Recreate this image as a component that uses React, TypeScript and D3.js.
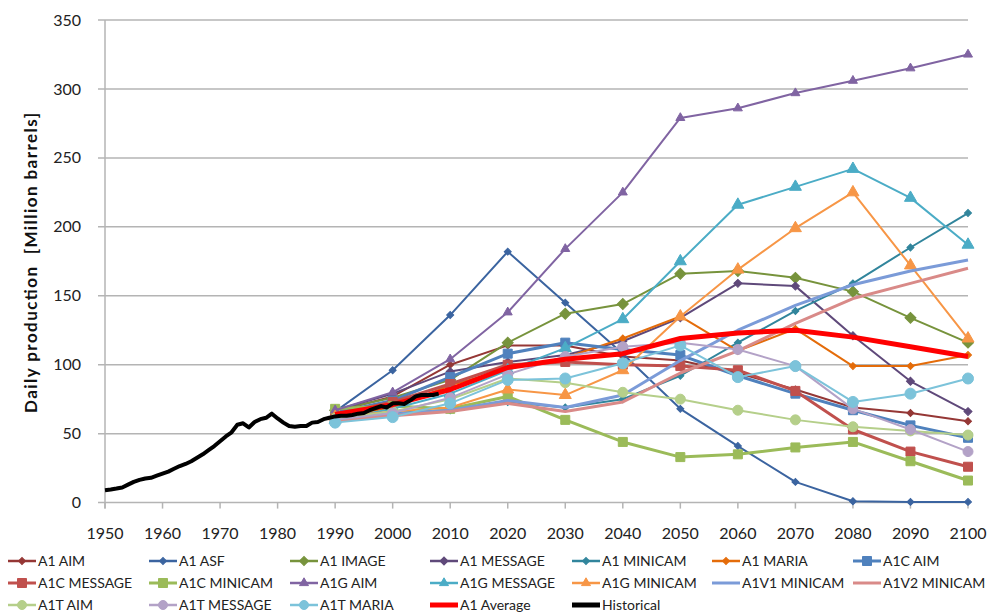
import React from "react";
import * as d3 from "d3";

const years = [1990, 2000, 2010, 2020, 2030, 2040, 2050, 2060, 2070, 2080, 2090, 2100];

const a1Aim = [66, 77, 100, 114, 114, 106, 103, 94, 82, 69, 65, 59];
const a1Asf = [66, 96, 136, 182, 145, 108, 68, 41, 15, 1, 0.5, 0.5];
const a1Image = [67, 76, 89, 116, 137, 144, 166, 168, 163, 153, 134, 116];
const a1Message = [67, 79, 95, 102, 107, 117, 134, 159, 157, 121, 88, 66];
const a1Minicam = [61, 65, 67, 73, 69, 75, 92, 116, 139, 159, 185, 210];
const a1Maria = [62, 69, 85, 97, 105, 119, 135, 110, 126, 99, 99, 107];
const a1cAim = [65, 74, 91, 108, 116, 111, 107, 92, 79, 67, 56, 47];
const a1cMessage = [64, 73, 86, 100, 102, 100, 99, 96, 81, 53, 37, 26];
const a1cMinicam = [68, 70, 68, 77, 60, 44, 33, 35, 40, 44, 30, 16];
const a1gAim = [67, 80, 104, 138, 184, 225, 279, 286, 297, 306, 315, 325];
const a1gMessage = [60, 68, 79, 96, 112, 133, 175, 216, 229, 242, 221, 187];
const a1gMinicam = [62, 66, 69, 82, 78, 96, 135, 169, 199, 225, 172, 119];
const a1v1Minicam = [60, 64, 67, 74, 69, 78, 103, 125, 143, 158, 168, 176];
const a1v2Minicam = [59, 63, 66, 72, 66, 73, 94, 110, 130, 148, 159, 170];
const a1tAim = [61, 66, 75, 90, 87, 80, 75, 67, 60, 55, 52, 49];
const a1tMessage = [60, 65, 76, 93, 106, 113, 116, 111, 99, 68, 53, 37];
const a1tMaria = [58, 62, 72, 89, 90, 101, 114, 91, 99, 73, 79, 90];
const a1Average = [64, 71, 82, 98, 104, 108, 119, 123, 125, 120, 113, 106];

const histYears = d3.range(1950, 2009);
const histValues = [
  9, 9.5, 10.2, 11, 13, 15, 16.5, 17.5, 18, 19.5,
  21, 22.5, 24.5, 26.5, 28, 30, 32.5, 35, 38, 41,
  44.5, 48, 51, 56.5, 57.5, 54.5, 58.5, 60.5, 61.5, 64.5,
  61, 58, 55.5, 55, 55.5, 55.5, 58, 58.5, 60.5, 61.5,
  62.5, 63, 63, 63.5, 64.5, 65, 67, 68.5, 70, 69,
  72, 72, 71.5, 74, 77, 78, 78, 78, 79,
];

const xTicks = d3.range(1950, 2101, 10);
const yTicks = d3.range(0, 351, 50);
const yTitle = "Daily production\u00A0\u00A0[Million barrels]";

type Marker = "diamond" | "square" | "triangle" | "circle" | "none";
interface Series { name: string; values: number[]; color: string; width: number; marker: Marker; size: number; }

const series: Series[] = [
  { name: "A1 AIM", values: a1Aim, color: "#953735", width: 2, marker: "diamond", size: 7 },
  { name: "A1 ASF", values: a1Asf, color: "#3B64A0", width: 2, marker: "diamond", size: 7 },
  { name: "A1 IMAGE", values: a1Image, color: "#77933C", width: 2, marker: "diamond", size: 11 },
  { name: "A1 MESSAGE", values: a1Message, color: "#5F497A", width: 2, marker: "diamond", size: 8 },
  { name: "A1 MINICAM", values: a1Minicam, color: "#31859C", width: 2, marker: "diamond", size: 7 },
  { name: "A1 MARIA", values: a1Maria, color: "#E46C0A", width: 2, marker: "diamond", size: 7 },
  { name: "A1C AIM", values: a1cAim, color: "#4F81BD", width: 3, marker: "square", size: 9 },
  { name: "A1C MESSAGE", values: a1cMessage, color: "#C0504D", width: 3, marker: "square", size: 9 },
  { name: "A1C MINICAM", values: a1cMinicam, color: "#9BBB59", width: 3, marker: "square", size: 9 },
  { name: "A1G AIM", values: a1gAim, color: "#8064A2", width: 2, marker: "triangle", size: 9 },
  { name: "A1G MESSAGE", values: a1gMessage, color: "#4BACC6", width: 2, marker: "triangle", size: 12 },
  { name: "A1G MINICAM", values: a1gMinicam, color: "#F79646", width: 2, marker: "triangle", size: 12 },
  { name: "A1V1 MINICAM", values: a1v1Minicam, color: "#7B9BD8", width: 3, marker: "none", size: 0 },
  { name: "A1V2 MINICAM", values: a1v2Minicam, color: "#D98A88", width: 3, marker: "none", size: 0 },
  { name: "A1T AIM", values: a1tAim, color: "#B5CF8A", width: 2, marker: "circle", size: 10 },
  { name: "A1T MESSAGE", values: a1tMessage, color: "#B3A2C7", width: 2, marker: "circle", size: 10 },
  { name: "A1T MARIA", values: a1tMaria, color: "#7CC3DA", width: 2, marker: "circle", size: 11 },
];

const W = 990, H = 613;
const x = d3.scaleLinear().domain([1950, 2100]).range([105, 968]);
const y = d3.scaleLinear().domain([0, 350]).range([502.6, 20]);

function markerPath(m: Marker, s: number): string | null {
  if (m === "none") return null;
  const type = m === "triangle" ? d3.symbolTriangle : m === "circle" ? d3.symbolCircle : d3.symbolSquare;
  let area = s * s;
  if (m === "circle") area = Math.PI * (s / 2) * (s / 2);
  if (m === "triangle") area = (Math.sqrt(3) / 4) * s * s;
  if (m === "diamond") area = (s * s) / 2;
  return d3.symbol().type(type).size(area)() as string;
}

function Mark({ m, s, color, cx, cy }: { m: Marker; s: number; color: string; cx: number; cy: number }) {
  const p = markerPath(m, s);
  if (!p) return null;
  const rot = m === "diamond" ? ` rotate(45)` : "";
  return <path d={p} transform={`translate(${cx},${cy})${rot}`} fill={color} stroke={color} strokeWidth={1} />;
}

export default function App() {
  const line = d3.line<number>().x((_, i) => x(years[i])).y((v) => y(v));
  const histLine = d3.line<number>().x((_, i) => x(histYears[i])).y((v) => y(v));
  const font = "Lato, 'Open Sans', sans-serif";
  const colX = [8, 149, 290, 430, 572, 712, 853];
  const rowY = [561, 583, 605];
  const legendItems = [
    ...series.map((s) => ({ name: s.name, color: s.color, width: s.width, marker: s.marker, size: s.size })),
    { name: "A1 Average", color: "#FF0000", width: 5, marker: "none" as Marker, size: 0 },
    { name: "Historical", color: "#000000", width: 5, marker: "none" as Marker, size: 0 },
  ];
  return (
    <svg width={W} height={H} style={{ position: "absolute", left: 0, top: 0, background: "#fff" }} fontFamily={font}>
      <rect width={W} height={H} fill="#fff" />
      {yTicks.map((t) => (
        <line key={t} x1={98} x2={968} y1={y(t)} y2={y(t)} stroke="#B4B4B4" strokeWidth={1.5} />
      ))}
      <line x1={105} x2={105} y1={y(350)} y2={y(0) + 6} stroke="#B4B4B4" strokeWidth={1.5} />
      {xTicks.map((t) => (
        <line key={t} x1={x(t)} x2={x(t)} y1={y(0)} y2={y(0) + 6} stroke="#B4B4B4" strokeWidth={1.5} />
      ))}
      {yTicks.map((t) => (
        <text key={t} x={81} y={y(t)} dy="0.35em" textAnchor="end" fontSize={16} fill="#222">{t}</text>
      ))}
      {xTicks.map((t) => (
        <text key={t} x={x(t)} y={533} dy="0.35em" textAnchor="middle" fontSize={16} fill="#222">{t}</text>
      ))}
      <text transform="translate(31,263) rotate(-90)" textAnchor="middle" dy="0.35em" fontSize={17} fontWeight="bold" fill="#111"
        textLength={300} lengthAdjust="spacing">
        {yTitle}
      </text>
      {series.map((s) => (
        <g key={s.name}>
          <path d={line(s.values) as string} fill="none" stroke={s.color} strokeWidth={s.width} strokeLinejoin="round" />
          {s.values.map((v, i) => (
            <Mark key={i} m={s.marker} s={s.size} color={s.color} cx={x(years[i])} cy={y(v)} />
          ))}
        </g>
      ))}
      <path d={line(a1Average) as string} fill="none" stroke="#FF0000" strokeWidth={5} strokeLinejoin="round" />
      <path d={histLine(histValues) as string} fill="none" stroke="#000" strokeWidth={4} strokeLinejoin="round" />
      {legendItems.map((it, i) => {
        const cx = colX[i % 7];
        const cy = rowY[Math.floor(i / 7)];
        return (
          <g key={it.name}>
            <line x1={cx} x2={cx + 28} y1={cy} y2={cy} stroke={it.color} strokeWidth={Math.max(it.width, 2.5)} />
            <Mark m={it.marker} s={Math.min(it.size, 9)} color={it.color} cx={cx + 14} cy={cy} />
            <text x={cx + 30} y={cy} dy="0.35em" fontSize={14} fill="#222">{it.name}</text>
          </g>
        );
      })}
    </svg>
  );
}
